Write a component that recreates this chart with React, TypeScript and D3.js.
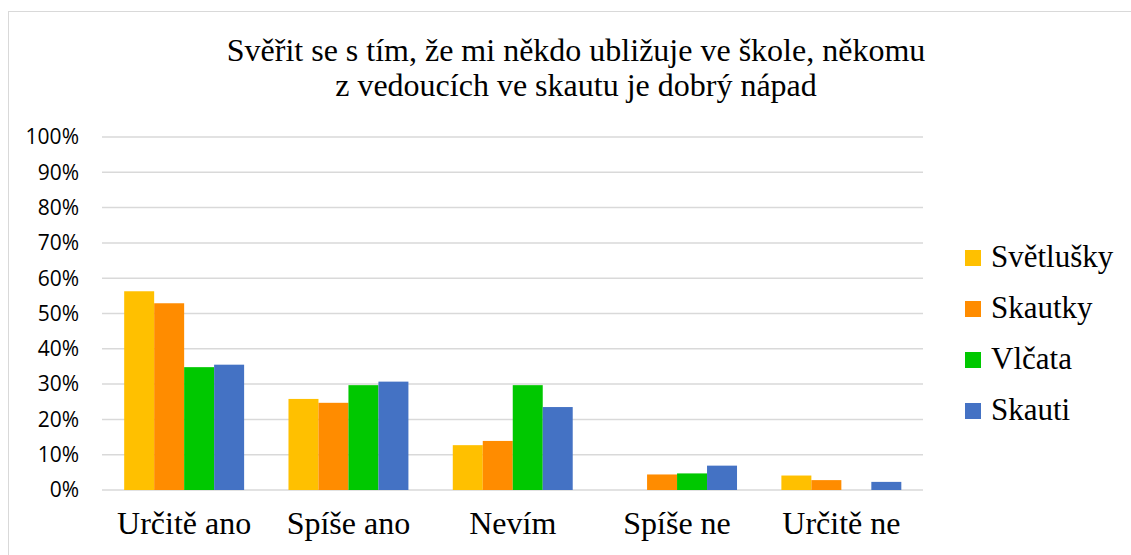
import React from 'react';
import * as d3 from 'd3';

// data
const categories = ['Určitě ano', 'Spíše ano', 'Nevím', 'Spíše ne', 'Určitě ne'];
const seriesNames = ['Světlušky', 'Skautky', 'Vlčata', 'Skauti'];
const svetlusky = [0.563, 0.258, 0.127, 0, 0.041];
const skautky = [0.529, 0.247, 0.139, 0.044, 0.028];
const vlcata = [0.348, 0.297, 0.297, 0.047, 0];
const skauti = [0.355, 0.307, 0.235, 0.069, 0.023];
const yTicks = [0, 0.1, 0.2, 0.3, 0.4, 0.5, 0.6, 0.7, 0.8, 0.9, 1];
const colors = ['#FFC000', '#FF8C00', '#00C800', '#4472C4'];
const titleLines = [
  'Svěřit se s tím, že mi někdo ubližuje ve škole, někomu',
  'z vedoucích ve skautu je dobrý nápad',
];

const W = 1131;
const H = 555;

const css = `
  .ser { font-family: 'Liberation Serif'; font-size: 32px; fill: #000; }
  .leg { font-family: 'Liberation Serif'; font-size: 31px; fill: #000; }
  .tick { font-family: 'Open Sans'; font-size: 21px; fill: #000; }
`;

export default function App() {
  const series = [svetlusky, skautky, vlcata, skauti];

  const x0 = d3.scaleBand<string>()
    .domain(categories)
    .range([102, 923.5])
    .paddingInner(0.27)
    .paddingOuter(0.135);

  const x1 = d3.scaleBand<string>()
    .domain(seriesNames)
    .range([0, x0.bandwidth()])
    .padding(0);

  const y = d3.scaleLinear().domain([0, 1]).range([490, 137]);
  const fmt = d3.format('.0%');

  return (
    <svg width={W} height={H} style={{ position: 'absolute', left: 0, top: 0, background: '#fff' }}>
      <style>{css}</style>
      {/* chart border */}
      <rect x={8.5} y={11.5} width={W} height={H} fill="none" stroke="#d9d9d9" strokeWidth={1} />

      {/* title */}
      {titleLines.map((t, i) => (
        <text key={i} className="ser" x={576} y={61 + i * 35} textAnchor="middle">{t}</text>
      ))}

      {/* gridlines + y labels */}
      {yTicks.map(t => (
        <g key={t}>
          <line x1={102} x2={923} y1={y(t)} y2={y(t)} stroke="#d9d9d9" strokeWidth={1.5} />
          <text className="tick" x={79} y={y(t)} dy="0.35em" textAnchor="end">
            {fmt(t)}
          </text>
        </g>
      ))}

      {/* bars */}
      {categories.map((c, ci) => (
        <g key={c} transform={`translate(${x0(c)},0)`}>
          {series.map((vals, si) => vals[ci] > 0 && (
            <rect
              key={si}
              x={x1(seriesNames[si])}
              y={y(vals[ci])}
              width={x1.bandwidth()}
              height={y(0) - y(vals[ci])}
              fill={colors[si]}
            />
          ))}
        </g>
      ))}

      {/* category labels */}
      {categories.map(c => (
        <text key={c} className="ser" x={(x0(c) ?? 0) + x0.bandwidth() / 2} y={534} textAnchor="middle">{c}</text>
      ))}

      {/* legend */}
      {seriesNames.map((s, i) => (
        <g key={s} transform={`translate(965,${258 + i * 51})`}>
          <rect x={0} y={-8} width={16} height={16} fill={colors[i]} />
          <text className="leg" x={26} y={9}>{s}</text>
        </g>
      ))}
    </svg>
  );
}
